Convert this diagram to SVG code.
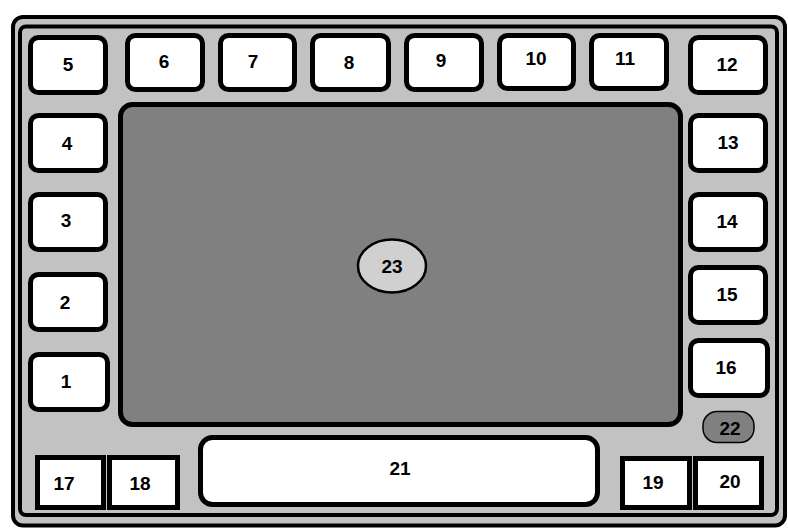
<svg xmlns="http://www.w3.org/2000/svg" width="788" height="530" viewBox="0 0 788 530">
<style>
.frame{fill:#c2c2c2;stroke:#000;stroke-width:4}
.box{fill:#fff;stroke:#000;stroke-width:5}
.sq{fill:#fff;stroke:#000;stroke-width:5}
.screen{fill:#808080;stroke:#000;stroke-width:5}
.pill{fill:#808080;stroke:#000;stroke-width:1.5}
.oval{fill:#d0d0d0;stroke:#000;stroke-width:2.5}
text{font-family:"Liberation Sans",Arial,sans-serif;font-weight:bold;font-size:19px;text-anchor:middle;fill:#000}
</style>
<rect width="788" height="530" fill="#fff"/>
<g id="frame">
<rect class="frame" x="13" y="17" width="772" height="508.5" rx="10"/>
<rect class="frame" x="20" y="26.5" width="757" height="488.5" rx="6"/>
</g>
<g id="n-screen"><rect class="screen" x="120.5" y="104.5" width="560" height="320" rx="12"/></g>
<g id="n5"><rect class="box" x="30.5" y="37.5" width="75" height="55" rx="8"/><text x="68" y="71">5</text></g>
<g id="n6"><rect class="box" x="127.5" y="35.5" width="75" height="54" rx="8"/><text x="164" y="68">6</text></g>
<g id="n7"><rect class="box" x="220.5" y="35.5" width="74" height="54" rx="8"/><text x="253" y="68">7</text></g>
<g id="n8"><rect class="box" x="312.5" y="35.5" width="76" height="54" rx="8"/><text x="349" y="69">8</text></g>
<g id="n9"><rect class="box" x="406.5" y="35.5" width="75" height="54" rx="8"/><text x="441" y="67">9</text></g>
<g id="n10"><rect class="box" x="499.5" y="35.5" width="74" height="53" rx="8"/><text x="536" y="65">10</text></g>
<g id="n11"><rect class="box" x="591.5" y="35.5" width="75" height="53" rx="8"/><text x="625" y="65">11</text></g>
<g id="n12"><rect class="box" x="690.5" y="37.5" width="75" height="55" rx="8"/><text x="727" y="71">12</text></g>
<g id="n4"><rect class="box" x="30.5" y="115.5" width="75" height="55" rx="8"/><text x="67" y="150">4</text></g>
<g id="n3"><rect class="box" x="30.5" y="194.5" width="75" height="55" rx="8"/><text x="66" y="227">3</text></g>
<g id="n2"><rect class="box" x="30.5" y="274.5" width="75" height="55" rx="8"/><text x="65" y="309">2</text></g>
<g id="n1"><rect class="box" x="30.5" y="354.5" width="77" height="55" rx="8"/><text x="66" y="388">1</text></g>
<g id="n13"><rect class="box" x="690.5" y="115.5" width="75" height="55" rx="8"/><text x="728" y="149">13</text></g>
<g id="n14"><rect class="box" x="690.5" y="194.5" width="75" height="55" rx="8"/><text x="727" y="228">14</text></g>
<g id="n15"><rect class="box" x="690.5" y="267.5" width="75" height="55" rx="8"/><text x="727" y="301">15</text></g>
<g id="n16"><rect class="box" x="690.5" y="340.5" width="77" height="55" rx="8"/><text x="726" y="374">16</text></g>
<g id="n22"><rect class="pill" x="703" y="411.5" width="51" height="31" rx="14"/><text x="730" y="435">22</text></g>
<g id="n17"><rect class="sq" x="37.5" y="457.5" width="66" height="50"/><text x="64" y="490">17</text></g>
<g id="n18"><rect class="sq" x="109.5" y="457.5" width="68" height="50"/><text x="140" y="490">18</text></g>
<g id="n19"><rect class="sq" x="622.5" y="458.5" width="67" height="49"/><text x="653" y="489">19</text></g>
<g id="n20"><rect class="sq" x="695.5" y="458.5" width="66" height="49"/><text x="730" y="488">20</text></g>
<g id="n21"><rect class="box" x="200.5" y="437.5" width="397" height="67" rx="12"/><text x="400" y="475">21</text></g>
<g id="n23"><ellipse class="oval" cx="392" cy="266" rx="34" ry="26.5"/><text x="392" y="273">23</text></g>
<g id="connectors"/>
</svg>
